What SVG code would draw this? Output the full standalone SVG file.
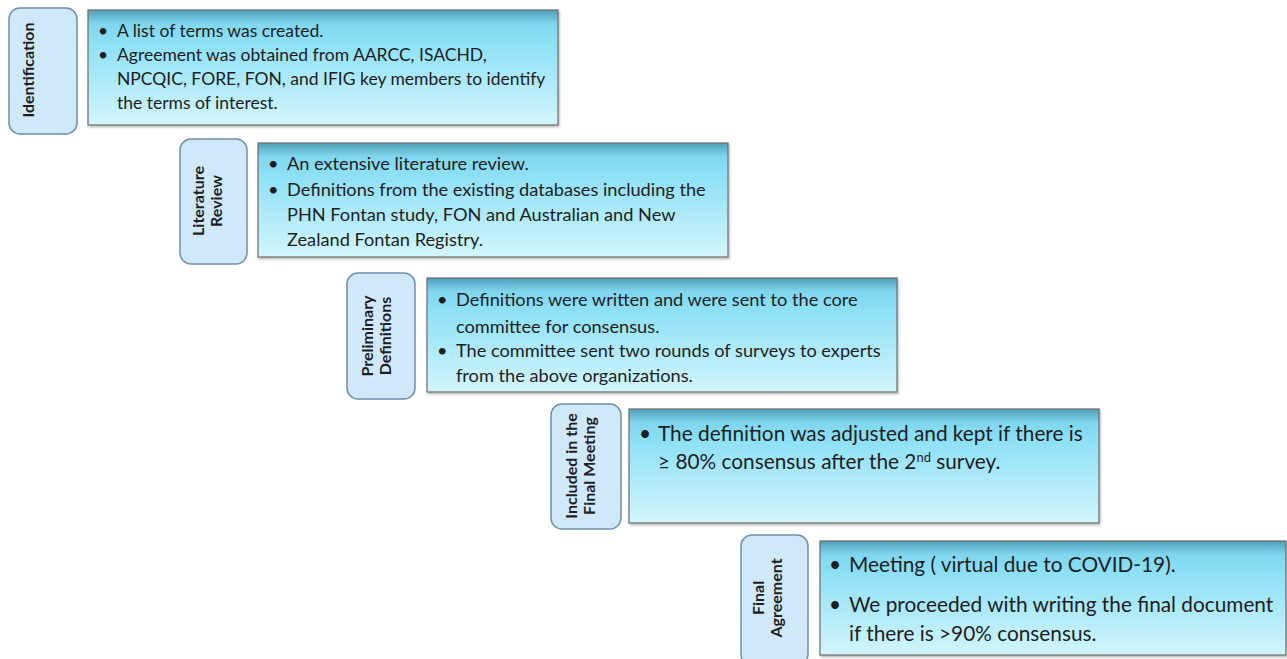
<svg xmlns="http://www.w3.org/2000/svg" width="1287" height="659" viewBox="0 0 1287 659">
<defs>
<linearGradient id="g" x1="0" y1="0" x2="0" y2="1">
<stop offset="0" stop-color="#4f9fb6"/>
<stop offset="0.12" stop-color="#7fd7ef"/>
<stop offset="0.3" stop-color="#8fe1f6"/>
<stop offset="1" stop-color="#d3f5fc"/>
</linearGradient>
<filter id="sh" x="-5%" y="-5%" width="110%" height="115%">
<feDropShadow dx="1" dy="1.5" stdDeviation="1.2" flood-color="#000" flood-opacity="0.3"/>
</filter>
</defs>
<style>
.lab{fill:#cfe9fb;stroke:#6f8fae;stroke-width:1.5}
.box{fill:url(#g);stroke:#6d6d6d;stroke-width:1.2;filter:url(#sh)}
.lt{font-family:Lato,"Open Sans",sans-serif;font-weight:bold;font-size:16px;fill:#1e1e1e;text-anchor:middle}
.t{font-family:Lato,"Open Sans",sans-serif;font-size:18.2px;fill:#1e1e1e}
.t1{font-family:Lato,"Open Sans",sans-serif;font-size:17.5px;fill:#1e1e1e}
.t2{font-family:Lato,"Open Sans",sans-serif;font-size:20.8px;fill:#1e1e1e}
</style>
<rect width="1287" height="659" fill="#fff"/>

<g id="identification">
<rect class="lab" x="9" y="8" width="68" height="126" rx="11"/>
<text class="lt" transform="translate(34,70) rotate(-90)">Identification</text>
<rect class="box" x="88" y="10" width="470" height="115"/>
<text class="t1"><tspan x="98" y="37">•</tspan><tspan x="117" y="37">A list of terms was created.</tspan>
<tspan x="98" y="61">•</tspan><tspan x="117" y="61">Agreement was obtained from AARCC, ISACHD,</tspan>
<tspan x="117" y="85">NPCQIC, FORE, FON, and IFIG key members to identify</tspan>
<tspan x="117" y="109">the terms of interest.</tspan></text>
</g>

<g id="literature-review">
<rect class="lab" x="180" y="139" width="67" height="125" rx="11"/>
<text class="lt" transform="translate(204,201) rotate(-90)">Literature</text>
<text class="lt" transform="translate(222,201) rotate(-90)">Review</text>
<rect class="box" x="258" y="143" width="470" height="114"/>
<text class="t"><tspan x="268" y="170">•</tspan><tspan x="287" y="170">An extensive literature review.</tspan>
<tspan x="268" y="196">•</tspan><tspan x="287" y="196">Definitions from the existing databases including the</tspan>
<tspan x="287" y="221">PHN Fontan study, FON and Australian and New</tspan>
<tspan x="287" y="246">Zealand Fontan Registry.</tspan></text>
</g>

<g id="preliminary-definitions">
<rect class="lab" x="347" y="273" width="68" height="126" rx="11"/>
<text class="lt" transform="translate(373,336) rotate(-90)">Preliminary</text>
<text class="lt" transform="translate(391,336) rotate(-90)">Definitions</text>
<rect class="box" x="427" y="278" width="470" height="114"/>
<text class="t"><tspan x="437" y="306">•</tspan><tspan x="456" y="306">Definitions were written and were sent to the core</tspan>
<tspan x="456" y="333">committee for consensus.</tspan>
<tspan x="437" y="357">•</tspan><tspan x="456" y="357">The committee sent two rounds of surveys to experts</tspan>
<tspan x="456" y="382">from the above organizations.</tspan></text>
</g>

<g id="final-meeting">
<rect class="lab" x="551" y="404" width="70" height="125" rx="11"/>
<text class="lt" transform="translate(577,466) rotate(-90)">Included in the</text>
<text class="lt" transform="translate(595,466) rotate(-90)">Final Meeting</text>
<rect class="box" x="629" y="409" width="470" height="114"/>
<text class="t2"><tspan x="639" y="441">•</tspan><tspan x="658" y="441">The definition was adjusted and kept if there is</tspan>
<tspan x="658" y="469">≥ 80% consensus after the 2<tspan font-size="13" dy="-7">nd</tspan><tspan dy="7"> survey.</tspan></tspan></text>
</g>

<g id="final-agreement">
<rect class="lab" x="741" y="535" width="67" height="130" rx="11"/>
<text class="lt" transform="translate(764,598) rotate(-90)">Final</text>
<text class="lt" transform="translate(782,598) rotate(-90)">Agreement</text>
<rect class="box" x="820" y="541" width="466" height="114"/>
<text class="t2"><tspan x="829" y="572">•</tspan><tspan x="849" y="572">Meeting ( virtual due to COVID-19).</tspan>
<tspan x="829" y="612">•</tspan><tspan x="849" y="612">We proceeded with writing the final document</tspan>
<tspan x="849" y="641">if there is &gt;90% consensus.</tspan></text>
</g>

<g id="connectors"></g>
</svg>
